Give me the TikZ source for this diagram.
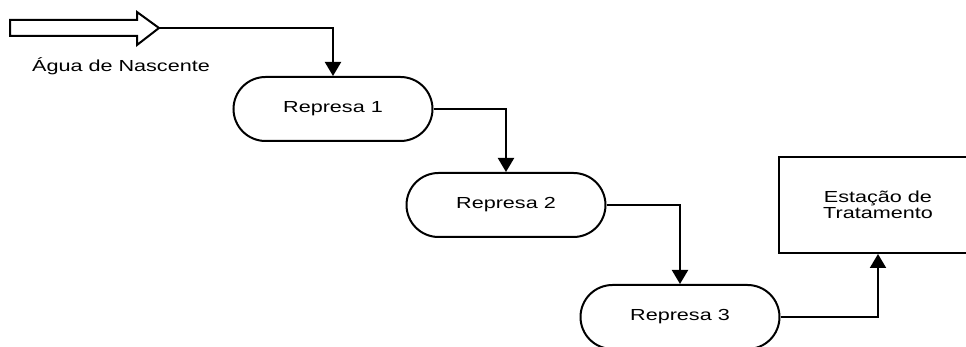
\documentclass[tikz,border=0pt]{standalone}
\usepackage{fontspec}
\setmainfont[FakeStretch=1.35]{Liberation Sans}
\usepackage{xcolor}
\usetikzlibrary{arrows.meta}
\definecolor{inkblack}{RGB}{0,0,0}

\tikzset{
    represa/.style={draw=inkblack, line width=1pt, rounded corners=16pt,
        minimum width=99.5pt, minimum height=32pt, inner sep=0pt},
    estacao/.style={draw=inkblack, line width=1pt, minimum width=99pt,
        minimum height=48pt, align=center, inner sep=0pt},
    flow/.style={draw=inkblack, line width=1pt,
        -{Triangle[width=8pt,length=7pt]}},
    txt/.style={font=\fontsize{8}{8}\selectfont, text=inkblack}
}

\begin{document}
\begin{tikzpicture}[x=0.5pt, y=-0.5pt]

% Canvas (pixel grid of the drawing)
\clip (0,0) rectangle (966,347);
\fill[white] (0,0) rectangle (966,347);

% Block arrow for the source
\draw[inkblack, line width=1pt] (10,20) -- (137,20) -- (137,12) -- (159,28)
    -- (137,45) -- (137,36) -- (10,36) -- cycle;
\coordinate (src) at (159,28);
\node[txt, anchor=base] (srclabel) at (121,72) {Água de Nascente};

% Reservoirs
\node[represa, txt] (r1) at (333,109) {Represa 1};
\node[represa, txt] (r2) at (506,205) {Represa 2};
\node[represa, txt] (r3) at (680,317) {Represa 3};

% Treatment plant
\node[estacao, txt] (est) at (878,205) {Estação de\\Tratamento};

% Connectors
\draw[flow] (src) -| (r1.north);
\draw[flow] (r1.east) -| (r2.north);
\draw[flow] (r2.east) -| (r3.north);
\draw[flow] (r3.east) -| (est.south);

\end{tikzpicture}
\end{document}
